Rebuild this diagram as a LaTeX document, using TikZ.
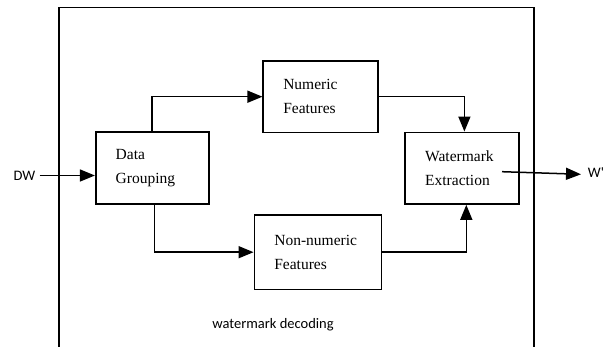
\documentclass[tikz,border=0pt]{standalone}
\usepackage{fontspec}
\setmainfont{Liberation Serif}
\newfontfamily\sansf{Carlito}
\usepackage{tikz}
\usetikzlibrary{arrows.meta,positioning,calc}
\tikzset{
  blk/.style={draw,line width=1.6pt,align=left,inner xsep=20pt,inner ysep=0pt,font=\fontsize{15.5}{24}\selectfont},
  lbl/.style={font=\sansf\fontsize{14.5}{17}\selectfont,inner sep=0pt},
  arr/.style={-{Triangle[length=15pt,width=12pt]},line width=1.5pt},
}
\begin{document}
\begin{tikzpicture}[x=1pt,y=-1pt]
\useasboundingbox (0,0) rectangle (605,347);
% outer frame, open at the bottom
\draw[line width=1.6pt] (58.8,350) -- (58.8,7.5) -- (534,7.5) -- (534,350);
% blocks
\node[blk,text width=73pt,minimum height=72.3pt] (dg) at (152.2,167.9) {Data\\Grouping};
\node[blk,text width=74.5pt,minimum height=71.3pt] (num) at (320.5,96.7) {Numeric\\Features};
\node[blk,text width=87.3pt,minimum height=74.3pt] (nn) at (318,252.2) {Non-numeric\\Features};
\node[blk,text width=73.8pt,minimum height=71.7pt] (we) at (462.1,168.2) {Watermark\\Extraction};
% labels
\node[lbl] (dw) at (24.5,175.5) {DW};
\node[lbl] (wp) at (596,172.5) {W'};
\node[lbl] (dec) at (273,325) {watermark decoding};
\coordinate (wout) at (502,171.7);
\coordinate (wend) at (581,174.3);
% connectors
\draw[arr] ($(dw.east)+(4,0)$) -- (dw.east -| dg.west);
\draw[arr] (dg.north) |- (num.west);
\draw[arr] ([xshift=2.5pt]dg.south) |- (nn.west);
\draw[arr] (num.east) -| ([xshift=2.3pt]we.north);
\draw[arr] (nn.east) -| ([xshift=4.2pt]we.south);
\draw[arr] (wout) -- (wend);
\end{tikzpicture}
\end{document}
